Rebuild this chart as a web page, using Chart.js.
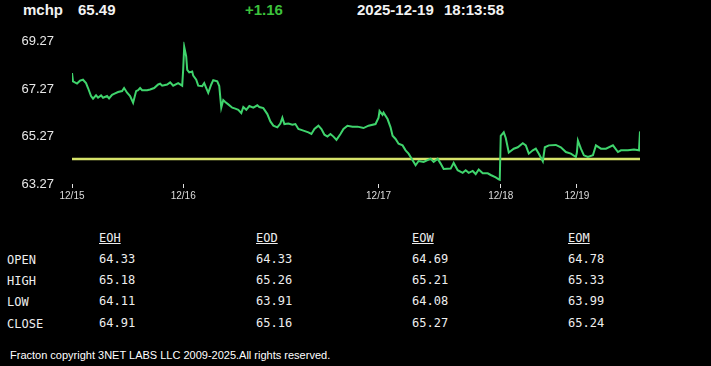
<!DOCTYPE html>
<html lang="en">
<head>
    <meta charset="UTF-8">
    <title>mchp</title>
    <script src="https://cdn.jsdelivr.net/npm/chart.js"></script>
    <style>
        html, body { margin: 0; padding: 0; background: #000; width: 711px; height: 366px; overflow: hidden; }
        body { position: relative; font-family: "Liberation Sans", Arial, sans-serif; color: #fff; }
        .hd { position: absolute; top: 1px; line-height: 18px; font-size: 15px; font-weight: bold; color: #f2f2f2; }
        #chartBox { position: absolute; left: 0; top: 24px; width: 711px; height: 186px; }
        .tb { position: absolute; font-family: "DejaVu Sans Mono", "Liberation Mono", monospace; font-size: 12px; line-height: 14px; color: #eee; }
        .tb.h { text-decoration: underline; }
        #foot { position: absolute; left: 10px; top: 348px; font-size: 11px; line-height: 14px; color: #fff; }
    </style>
</head>
<body>
    <div class="hd" style="left:23px">mchp</div>
    <div class="hd" style="left:78px" id="last"></div>
    <div class="hd" style="left:245px;color:#3cc23c" id="chg"></div>
    <div class="hd" style="left:357px">2025-12-19</div>
    <div class="hd" style="left:444px">18:13:58</div>

    <div id="chartBox"><canvas id="priceChart"></canvas></div>

    <div id="table"></div>
    <div id="foot">Fracton copyright 3NET LABS LLC 2009-2025.All rights reserved.</div>

    <script>
        // intraday samples (index along the session axis) and prices
        const sampleIdx = [0, 1, 5, 8, 11, 14, 16, 19, 21, 24, 26, 29, 31, 35, 37, 40, 43, 46, 50, 52, 55, 58, 61, 64, 66, 68, 70, 75, 78, 82, 86, 88, 90, 95, 98, 101, 106, 110,
            111, 112, 114, 115, 117, 120, 121, 124, 126, 130, 132, 134, 136, 139, 141, 145, 147, 149, 151, 153, 156, 160, 163, 166, 169, 171, 174, 177, 181, 185, 187, 191, 195, 198, 201, 205, 208, 210, 212, 216, 220, 223, 226, 231, 236, 239, 242, 246, 249, 252, 255, 258, 261, 264, 268, 271, 275, 280, 285, 291, 296, 303,
            306, 307, 310, 311, 315, 318, 320, 323, 326, 330, 333, 336, 340, 343, 346, 351, 358, 361, 365, 368, 371, 378, 381, 385, 390, 393, 396, 400, 403, 406, 410, 415, 418, 423, 426, 427,
            428, 431, 433, 436, 438, 441, 445, 450, 453, 456, 460, 463, 466, 470, 472, 476, 483, 488, 493, 498, 503,
            504, 505, 508, 511, 515, 520, 523, 528, 533, 540, 545, 548, 555, 561, 566, 567];
        const prices = [67.95, 67.60, 67.51, 67.63, 67.67, 67.53, 67.32, 66.98, 66.87, 67.01, 66.91, 67.01, 66.91, 66.98, 66.88, 67.03, 67.09, 67.15, 67.19, 67.32, 67.12, 66.98, 66.70, 67.19, 67.23, 67.32, 67.23, 67.23, 67.26, 67.32, 67.47, 67.50, 67.42, 67.47, 67.56, 67.42, 67.53, 67.42,
            68.10, 69.06, 68.65, 68.09, 67.98, 68.02, 67.84, 67.67, 67.42, 67.40, 67.53, 67.32, 67.12, 67.47, 67.65, 67.60, 67.40, 66.49, 66.81, 66.73, 66.63, 66.49, 66.45, 66.40, 66.26, 66.52, 66.40, 66.56, 66.49, 66.59, 66.52, 66.47, 66.22, 65.91, 65.73, 65.66, 65.82, 66.07, 65.80, 65.82, 65.77, 65.80, 65.59, 65.52, 65.45, 65.38, 65.59, 65.73, 65.59, 65.35, 65.27, 65.38, 65.27, 65.13, 65.38, 65.59, 65.73, 65.69, 65.69, 65.63, 65.73, 65.80,
            66.07, 66.35, 66.19, 66.28, 66.01, 65.66, 65.31, 65.17, 64.97, 64.90, 64.69, 64.55, 64.27, 64.06, 64.24, 64.20, 64.34, 64.20, 64.34, 64.13, 63.90, 63.92, 64.16, 63.85, 63.74, 63.85, 63.74, 63.82, 63.69, 63.88, 63.72, 63.72, 63.65, 63.55, 63.47, 63.45,
            65.30, 65.45, 65.21, 64.60, 64.66, 64.76, 64.82, 64.99, 64.90, 64.55, 64.69, 64.76, 64.55, 64.23, 64.82, 64.90, 64.92, 64.82, 64.62, 64.55, 64.41,
            64.60, 65.10, 64.76, 64.48, 64.41, 64.48, 64.90, 64.76, 64.76, 64.90, 64.62, 64.69, 64.69, 64.73, 64.69, 65.49];

        const dayStartIdx = [0, 111, 306, 428, 504];
        const dayLabels = ['12/15', '12/16', '12/17', '12/18', '12/19'];
        const yTicks = [63.27, 65.27, 67.27, 69.27];

        const lastPrice = 65.49;
        const prevClose = 64.33;
        const change = '+1.16';

        // summary table
        const periods = ['EOH', 'EOD', 'EOW', 'EOM'];
        const rowNames = ['OPEN', 'HIGH', 'LOW', 'CLOSE'];
        const openVals = [64.33, 64.33, 64.69, 64.78];
        const highVals = [65.18, 65.26, 65.21, 65.33];
        const lowVals = [64.11, 63.91, 64.08, 63.99];
        const closeVals = [64.91, 65.16, 65.27, 65.24];

        document.getElementById('last').textContent = lastPrice.toFixed(2);
        document.getElementById('chg').textContent = change;

        // build table
        const tbl = document.getElementById('table');
        const colX = [99, 256, 412, 568];
        const rowY = [253, 274, 295, 317];
        function cell(txt, x, y, cls) {
            const d = document.createElement('div');
            d.className = 'tb' + (cls ? ' ' + cls : '');
            d.style.left = x + 'px';
            d.style.top = y + 'px';
            d.textContent = txt;
            tbl.appendChild(d);
        }
        periods.forEach((p, i) => cell(p, colX[i], 231, 'h'));
        const rows = [openVals, highVals, lowVals, closeVals];
        rowNames.forEach((n, r) => {
            cell(n, 7, rowY[r]);
            rows[r].forEach((v, i) => cell(v.toFixed(2), colX[i], rowY[r] - 1));
        });

        const ctx = document.getElementById('priceChart').getContext('2d');
        const priceChart = new Chart(ctx, {
            type: 'line',
            data: {
                datasets: [{
                    data: sampleIdx.map((s, i) => ({ x: s, y: prices[i] })),
                    borderColor: '#3fd46c',
                    borderWidth: 2,
                    pointRadius: 0,
                    tension: 0
                }, {
                    data: [{ x: sampleIdx[0], y: prevClose }, { x: sampleIdx[sampleIdx.length - 1], y: prevClose }],
                    borderColor: '#d6e36a',
                    borderWidth: 2.5,
                    pointRadius: 0
                }]
            },
            options: {
                responsive: true,
                maintainAspectRatio: false,
                animation: false,
                layout: { padding: { top: 16, right: 71, left: 0, bottom: 0 } },
                plugins: { legend: { display: false }, tooltip: { enabled: false } },
                scales: {
                    x: {
                        type: 'linear',
                        min: 0,
                        max: 567,
                        afterBuildTicks: (scale) => { scale.ticks = dayStartIdx.map(v => ({ value: v })); },
                        afterFit: (scale) => { scale.height = 26; },
                        grid: { display: true, drawOnChartArea: false, color: '#e0e0e0', tickLength: 4 },
                        border: { display: false },
                        ticks: {
                            autoSkip: false,
                            maxRotation: 0,
                            padding: 2,
                            color: '#dddddd',
                            font: { family: 'Liberation Sans', size: 10 },
                            callback: (v) => dayLabels[dayStartIdx.indexOf(v)]
                        }
                    },
                    y: {
                        min: 63.27,
                        max: 69.27,
                        afterBuildTicks: (scale) => { scale.ticks = yTicks.map(v => ({ value: v })); },
                        afterFit: (scale) => { scale.width = 72; },
                        grid: { display: false },
                        border: { display: false },
                        ticks: {
                            padding: 10,
                            color: '#e8e8e8',
                            font: { family: 'Liberation Sans', size: 13 },
                            callback: (v) => v.toFixed(2)
                        }
                    }
                }
            }
        });
    </script>
</body>
</html>
